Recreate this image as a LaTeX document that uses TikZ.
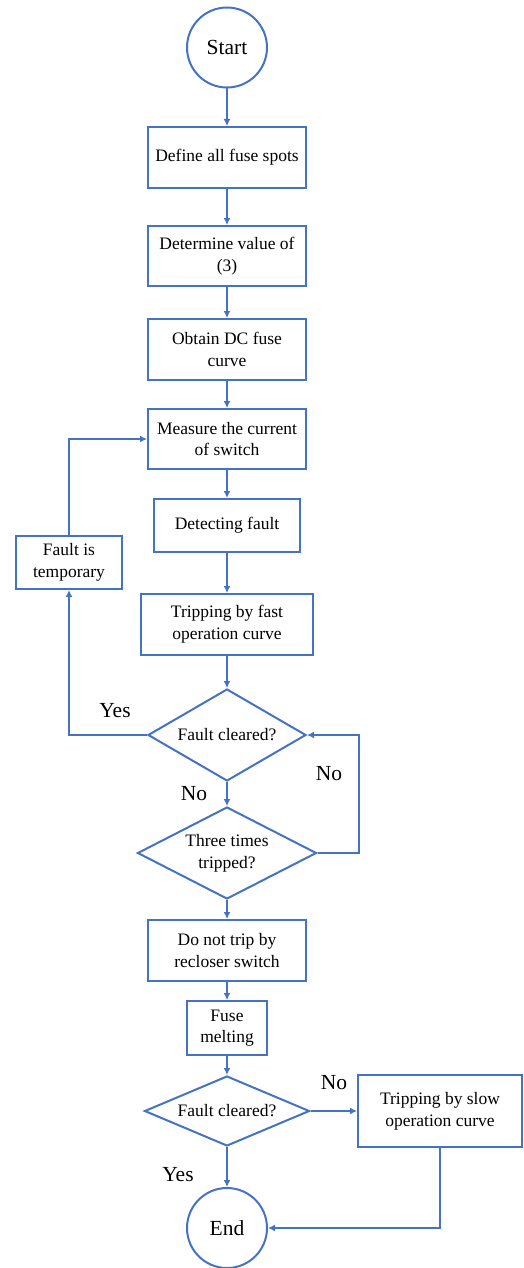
\documentclass[tikz,border=0pt]{standalone}
\usepackage{fontspec}
\setmainfont{Liberation Serif}[Ligatures=TeX]
\usetikzlibrary{shapes.geometric,arrows.meta}
\definecolor{ob}{HTML}{4472C4}
\tikzset{
  box/.style={draw=ob,line width=2pt,rectangle,inner sep=0pt,align=center,font=\rmfamily\fontsize{17.5}{21.7}\selectfont},
  term/.style={draw=ob,line width=2pt,circle,inner sep=0pt,minimum size=80pt,font=\rmfamily\fontsize{21.5}{24}\selectfont},
  dec/.style={draw=ob,line width=2pt,diamond,inner sep=0pt,align=center,font=\rmfamily\fontsize{17.5}{21.7}\selectfont},
  lab/.style={font=\rmfamily\fontsize{21.5}{24}\selectfont,inner sep=0pt},
  arr/.style={draw=ob,line width=2pt,-{Latex[length=7pt,width=7pt]}},
}
\begin{document}
\begin{tikzpicture}[x=1pt,y=-1pt]
\useasboundingbox (0,0) rectangle (523,1268);
\node[term] (start) at (227,47.5) {Start};
\node[box,minimum width=158pt,minimum height=61pt] (def) at (227,157.5) {Define all fuse spots};
\node[box,minimum width=158pt,minimum height=60pt] (det) at (227,256) {Determine value of\\(3)};
\node[box,minimum width=158pt,minimum height=61pt] (obt) at (227,349.5) {Obtain DC fuse\\curve};
\node[box,minimum width=158pt,minimum height=60pt] (meas) at (227,439) {Measure the current\\of switch};
\node[box,minimum width=146pt,minimum height=53pt] (detf) at (227,525.5) {Detecting fault};
\node[box,minimum width=106pt,minimum height=53pt] (temp) at (69,562.5) {Fault is\\temporary};
\node[box,minimum width=172pt,minimum height=61pt] (fast) at (227,624.5) {Tripping by fast\\operation curve};
\node[dec,shape aspect=1.72,minimum width=158pt,minimum height=92pt] (d1) at (227,735) {Fault cleared?};
\node[dec,shape aspect=1.95,minimum width=179pt,minimum height=92pt] (d2) at (227,853) {Three times\\tripped?};
\node[box,minimum width=158pt,minimum height=61pt] (dnt) at (227,950.5) {Do not trip by\\recloser switch};
\node[box,minimum width=80pt,minimum height=54pt] (fuse) at (227,1028) {Fuse\\melting};
\node[dec,shape aspect=2.36,minimum width=165pt,minimum height=70pt] (d3) at (227,1111) {Fault cleared?};
\node[box,minimum width=164pt,minimum height=72pt] (slow) at (440,1111) {Tripping by slow\\operation curve};
\node[term] (end) at (227,1228) {End};
\coordinate (c1) at (359,853);
\draw[arr] (start) -- (def);
\draw[arr] (def) -- (det);
\draw[arr] (det) -- (obt);
\draw[arr] (obt) -- (meas);
\draw[arr] (meas) -- (detf);
\draw[arr] (detf) -- (fast);
\draw[arr] (fast) -- (d1);
\draw[arr] (d1.south) -- (d2.north);
\draw[arr] (d2.south) -- (dnt.north);
\draw[arr] (dnt) -- (fuse);
\draw[arr] (fuse.south) -- (d3.north);
\draw[arr] (d3.south) -- (end.north);
\draw[arr] (d3.east) -- (slow.west);
\draw[arr] (slow.south) |- (end.east);
\draw[arr] (d1.west) -| (temp.south);
\draw[arr] (temp.north) |- (meas.west);
\draw[arr] (d2.east) -- (c1) |- (d1.east);
\node[lab] (yes1) at (115,711) {Yes};
\node[lab] (no1) at (329,774) {No};
\node[lab] (no2) at (194,794) {No};
\node[lab] (no3) at (334,1083) {No};
\node[lab] (yes2) at (178,1175) {Yes};
\end{tikzpicture}
\end{document}
